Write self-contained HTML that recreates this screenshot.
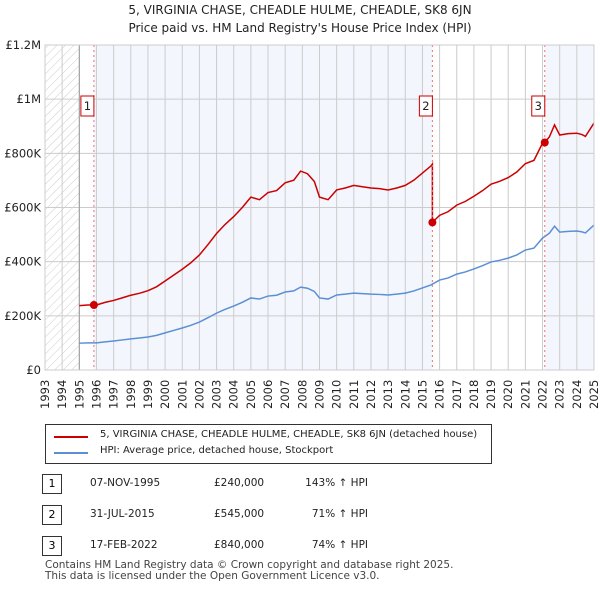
<!DOCTYPE html>
<html><head><meta charset="utf-8"><style>
body{margin:0;background:#fff;font-family:"DejaVu Sans","Liberation Sans",sans-serif;}
#c{position:relative;width:600px;height:590px;overflow:hidden;}
.t{position:absolute;font-size:11px;color:#222;white-space:nowrap}
</style></head><body>
<div id="c">
<div class="t" style="left:0;width:600px;text-align:center;top:3px;font-size:12px">5, VIRGINIA CHASE, CHEADLE HULME, CHEADLE, SK8 6JN</div>
<div class="t" style="left:0;width:600px;text-align:center;top:21px;font-size:12px">Price paid vs. HM Land Registry's House Price Index (HPI)</div>
<svg id="s" width="600" height="420" style="position:absolute;left:0;top:0">
<defs><pattern id="h" width="6" height="6" patternUnits="userSpaceOnUse" patternTransform="rotate(45)"><line x1="0" y1="0" x2="0" y2="6" stroke="#ccc" stroke-width="1"/></pattern></defs>
</svg>
<div style="position:absolute;left:45px;top:424px;width:445px;height:38px;border:1px solid #333;">
<div style="position:absolute;left:8px;top:11px;width:34px;height:2px;background:#cc0000"></div>
<div class="t" style="left:54px;top:4px;font-size:10px">5, VIRGINIA CHASE, CHEADLE HULME, CHEADLE, SK8 6JN (detached house)</div>
<div style="position:absolute;left:8px;top:27px;width:34px;height:2px;background:#5b8fd4"></div>
<div class="t" style="left:54px;top:20px;font-size:10px">HPI: Average price, detached house, Stockport</div>
</div>
<div id="tbl"></div>
<div class="t" style="left:45px;top:560px;font-size:10.5px;color:#444;line-height:11px">Contains HM Land Registry data © Crown copyright and database right 2025.<br>This data is licensed under the Open Government Licence v3.0.</div>
</div>
<script>
const hpiYears=[1995,1995.5,1996,1996.5,1997,1997.5,1998,1998.5,1999,1999.5,2000,2000.5,2001,2001.5,2002,2002.5,2003,2003.5,2004,2004.5,2005,2005.5,2006,2006.5,2007,2007.5,2007.9,2008.3,2008.7,2009,2009.5,2010,2010.5,2011,2011.5,2012,2012.5,2013,2013.5,2014,2014.5,2015,2015.5,2016,2016.5,2017,2017.5,2018,2018.5,2019,2019.5,2020,2020.5,2021,2021.5,2022,2022.4,2022.7,2023,2023.5,2024,2024.3,2024.5,2025];
const hpiValues=[99000,100000,100000,104000,107000,111000,115000,118000,122000,128000,137000,146000,155000,165000,177000,193000,210000,224000,236000,250000,266000,262000,273000,276000,288000,292000,306000,302000,290000,266000,262000,277000,280000,284000,282000,280000,279000,277000,280000,284000,292000,303000,314000,332000,340000,354000,362000,373000,385000,399000,405000,413000,425000,443000,450000,487000,505000,531000,509000,512000,513000,510000,506000,535000];
const saleYears=[1995.85,2015.58,2022.13];
const salePrices=[240000,545000,840000];
const saleLabels=["1","2","3"];
const saleDates=["07-NOV-1995","31-JUL-2015","17-FEB-2022"];
const salePriceText=["£240,000","£545,000","£840,000"];
const saleHpiText=["143% ↑ HPI","71% ↑ HPI","74% ↑ HPI"];
const yTicks=[0,200000,400000,600000,800000,1000000,1200000];
const yTickLabels=["£0","£200K","£400K","£600K","£800K","£1M","£1.2M"];
const x0=45,x1=594,y0=370,y1=45;
const X=y=>x0+(y-1993)/(2025-1993)*(x1-x0);
const Y=v=>y0-v/1200000*(y0-y1);
const F='DejaVu Sans, Liberation Sans, sans-serif';
const s=document.getElementById('s'),NS='http://www.w3.org/2000/svg';
function mk(t,a,n){const e=document.createElementNS(NS,t);for(const k in a)e.setAttribute(k,a[k]);


s.appendChild(e);return e;}
mk('rect',{x:X(1993),y:y1,width:X(1995)-X(1993),height:y0-y1,fill:'url(#h)'},'pre-data-hatch');
mk('rect',{x:X(saleYears[0]),y:y1,width:X(saleYears[1])-X(saleYears[0]),height:y0-y1,fill:'#f3f6fd'},'ownership-band-1');
mk('rect',{x:X(saleYears[2]),y:y1,width:x1-X(saleYears[2]),height:y0-y1,fill:'#f3f6fd'},'ownership-band-3');
for(let yr=1993;yr<=2025;yr++){mk('line',{x1:X(yr),x2:X(yr),y1:y1,y2:y0,stroke:'#ccc'},'x-gridline');
const t=mk('text',{x:0,y:0,transform:`translate(${X(yr)+4},${y0+39}) rotate(-90)`,'font-size':11.5,fill:'#222','font-family':F},'x-tick-label');t.textContent=yr;}
yTicks.forEach((v,i)=>{mk('line',{x1:x0,x2:x1,y1:Y(v),y2:Y(v),stroke:'#ccc'},'y-gridline');
const t=mk('text',{x:41,y:Y(v)+4,'text-anchor':'end','font-size':11.5,fill:'#222','font-family':F},'y-tick-label');t.textContent=yTickLabels[i];});
mk('line',{x1:X(1995),x2:X(1995),y1:y1,y2:y0,stroke:'#999'},'data-start-line');
mk('polyline',{points:hpiYears.map((y,i)=>X(y)+','+Y(hpiValues[i])).join(' '),fill:'none',stroke:'#5b8fd4','stroke-width':1.5},'hpi-line');
function hpiAt(y){for(let i=1;i<hpiYears.length;i++)if(y<=hpiYears[i]){const f=(y-hpiYears[i-1])/(hpiYears[i]-hpiYears[i-1]);return hpiValues[i-1]+f*(hpiValues[i]-hpiValues[i-1]);}return hpiValues[hpiValues.length-1];}
const ratios=salePrices.map((p,i)=>p/hpiAt(saleYears[i]));
let pts=[];
hpiYears.forEach((y,i)=>{
 for(let k=1;k<3;k++){ if(y>saleYears[k]&&(i==0||hpiYears[i-1]<=saleYears[k])){pts.push([saleYears[k],hpiAt(saleYears[k])*ratios[k-1]]);pts.push([saleYears[k],salePrices[k]]);} }
 let r=ratios[0];if(y>saleYears[1])r=ratios[1];if(y>saleYears[2])r=ratios[2];
 pts.push([y,hpiValues[i]*r]);});
mk('polyline',{points:pts.map(p=>X(p[0])+','+Y(p[1])).join(' '),fill:'none',stroke:'#cc0000','stroke-width':1.5},'price-line');
saleYears.forEach((y,i)=>{mk('line',{x1:X(y),x2:X(y),y1:y1,y2:y0,stroke:'#f07070','stroke-dasharray':'2,3'},'sale-marker-line');
mk('circle',{cx:X(y),cy:Y(salePrices[i]),r:4,fill:'#cc0000'},'sale-point');
mk('rect',{x:X(y)-13,y:96,width:13,height:20,fill:'#fff',stroke:'#cc0000'},'sale-label-box');
const t=mk('text',{x:X(y)-6.5,y:110,'text-anchor':'middle','font-size':11.5,fill:'#222','font-family':F},'sale-label');t.textContent=saleLabels[i];});
mk('rect',{x:x0,y:y1,width:x1-x0,height:y0-y1,fill:'none',stroke:'#ccc'},'plot-border');
const tb=document.getElementById('tbl');
saleYears.forEach((y,i)=>{const top=474+i*31;
const r=document.createElement('div');


r.innerHTML=`<div style="position:absolute;left:42px;top:${top}px;width:18px;height:18px;border:1px solid #333;font-size:11px;text-align:center;line-height:18px">${saleLabels[i]}</div>
<div class="t" style="left:90px;top:${top+3}px;font-size:10.5px">${saleDates[i]}</div>
<div class="t" style="left:214px;top:${top+3}px;font-size:10.5px">${salePriceText[i]}</div>
<div class="t" style="left:290px;width:78px;text-align:right;top:${top+3}px;font-size:10.5px">${saleHpiText[i]}</div>`;
tb.appendChild(r);});
</script>
</body></html>
